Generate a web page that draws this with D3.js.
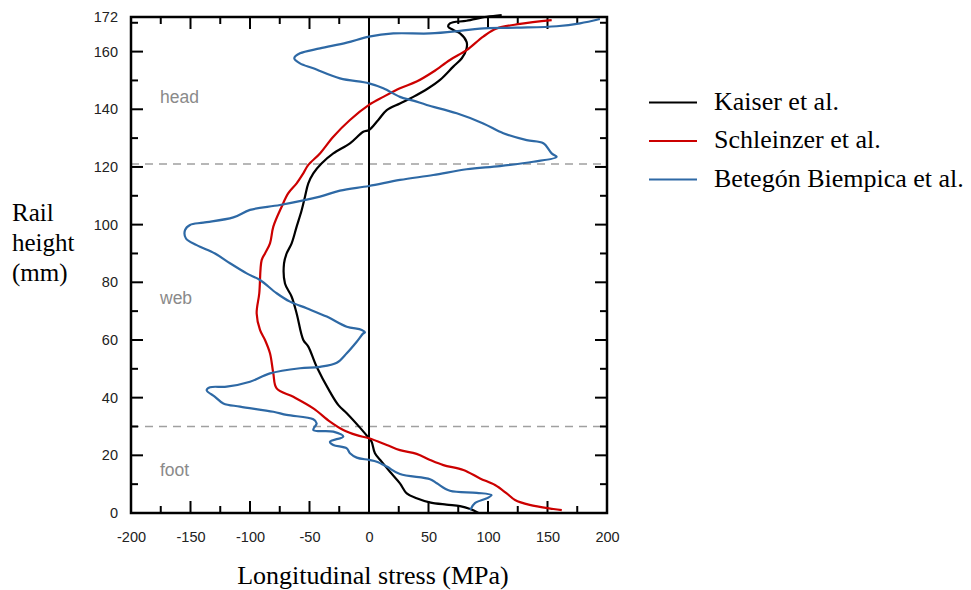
<!DOCTYPE html>
<html><head><meta charset="utf-8">
<script src="https://cdn.jsdelivr.net/npm/d3@7"></script>
<style>body{margin:0;background:#fff}svg{display:block}</style>
</head><body>
<svg id="c" width="971" height="590"></svg>
<script>
// stress (MPa), height (mm)
const kaiserX = [92,85,76.5,65,51,40,31.7,26,17.6,10.6,5,2.2,0,-7.6,-18.7,-25.7,-32.8,-44,-51,-55.2,-60.8,-65,-70.6,-71.4,-69.2,-65,-60.8,-56.6,-53.8,-51,-46.8,-39.7,-30,-16,-4.8,0,7.8,14.9,26,37.2,49.8,59.7,70.8,78,82,82,76.5,70.8,66.6,68,82,99,111.5];
const kaiserY = [0,1.4,2.4,2.9,3.7,5.1,6.8,10.3,14.3,17.8,20.7,24.7,25.9,29.6,34.6,37.4,42,50.7,57.7,60,69.2,75,79.6,86.6,90,93.5,99.3,105,109.7,114.3,117.8,121.3,124.7,128.2,132.2,132.8,136.3,139.7,142,144.3,147.3,150.2,154.8,157.7,161.1,163.4,166.3,167.5,168.6,169.8,170.7,172.1,172.7];
const schleinzerX = [162,155,135,122.7,115.7,105.9,93.3,79.3,62.5,51.3,40,26,14.9,0,-10.3,-21.6,-32.8,-46.8,-63.6,-77.6,-80.4,-83.2,-87.4,-91.6,-94.4,-92.2,-90.2,-87.4,-83.2,-80.4,-73.4,-67.8,-60.8,-55.2,-51,-41.2,-30,-16,0,12,26,40,54,68,82,96,107.3,127,153.5];
const schleinzerY = [1,1.4,2.8,4.5,6.8,9.7,12,14.9,16.6,18.4,20.5,21.8,23.6,25.9,27,28.8,31.7,36.3,40.3,43.2,48.4,55.4,60,63.5,69.2,76.2,87.7,90,93.5,99.3,106.2,110.9,114.3,117.8,120.7,124.7,130.5,136.3,141.5,144.3,147.3,149.6,153,157.1,160.5,165.2,168,169.6,170.9];
const betegonX = [85,89,99,103,90.5,68,57,51.3,26,14.9,6.5,0,-10.3,-16,-18.7,-30,-32.8,-21.6,-30,-46.8,-44,-46.8,-69.2,-80.4,-108.4,-122.4,-129.4,-136.4,-133.6,-119.6,-100,-83.2,-58,-41.2,-27.1,-18.7,-10.3,-4.8,-3.4,-6.1,-18.7,-35.5,-52.4,-66.4,-77.6,-91.6,-102.8,-116.8,-129.4,-144.8,-153.8,-154.6,-150.4,-139.2,-114,-100,-74.8,-41.2,-24.4,0,26,54,82,110,138,157.7,153.5,146.5,132.5,112.9,96,73.7,48.5,37.2,26,12,0,-24.4,-46.8,-58,-62.8,-58,-41.2,-18.7,0,20.4,51.3,76.5,93.3,124,157.7,177.3,194];
const betegonY = [1,3.4,5.1,6.2,7,7.7,10.3,11.7,13.5,16.1,17.8,18.4,19.2,20.7,22.4,23.6,24.7,26.5,28.2,28.8,31.1,32.5,34,35.1,36.9,38,40.3,42.6,43.6,43.8,45.5,48.4,50.2,50.7,52.1,55.4,59.4,62.3,62.6,63.5,64.6,68.1,71,73.3,76.2,80.8,83.1,86.6,90,92.9,95.2,98.1,99.9,100.7,102.5,105.1,106.8,109.7,111.8,113.4,115.5,117.2,119.2,120.3,121.8,123.5,124.7,128.2,129.3,131.7,135.1,138.6,141.5,143,144.3,147.3,149,150.7,154.2,155.9,157.7,159.4,161.1,163.1,165.2,166.3,166.3,167.2,168,168.3,168.8,169.8,171.3];
const seriesNames = ["Kaiser et al.","Schleinzer et al.","Betegón Biempica et al."];
const seriesColors = ["#000000","#cc0000","#2e69a5"];
const xTicks = [-200,-150,-100,-50,0,50,100,150,200];
const yTicks = [0,20,40,60,80,100,120,140,160,172];
const zoneLines = [121,30];
const zoneLabels = [{t:"head",h:143},{t:"web",h:73},{t:"foot",h:13.5}];

const svg = d3.select("#c");
const L=131,R=607,T=17,B=513;
const x = d3.scaleLinear().domain([-200,200]).range([L,R]);
const y = d3.scaleLinear().domain([0,172]).range([B,T]);

// dashed zone lines
svg.selectAll(".zl").data(zoneLines).join("line")
  .attr("x1",L).attr("x2",R).attr("y1",d=>y(d)).attr("y2",d=>y(d))
  .attr("stroke","#a0a0a0").attr("stroke-width",1.5).attr("stroke-dasharray","8,6");

// zone labels
svg.selectAll(".zt").data(zoneLabels).join("text")
  .attr("x",160).attr("y",d=>y(d.h)+2).text(d=>d.t)
  .attr("font-family","Liberation Sans, Arial, sans-serif").attr("font-size",17.5).attr("fill","#8a8a8a");

// zero line
svg.append("line").attr("x1",x(0)).attr("x2",x(0)).attr("y1",T).attr("y2",B)
  .attr("stroke","#000").attr("stroke-width",2);

// ticks (inward)
const minorX = d3.range(-175,200,25);
svg.selectAll(".tb").data(minorX).join("line")
  .attr("x1",d=>x(d)).attr("x2",d=>x(d)).attr("y1",B).attr("y2",d=>B-(d%50===0?12:7))
  .attr("stroke","#000").attr("stroke-width",2);
svg.selectAll(".tt").data(minorX).join("line")
  .attr("x1",d=>x(d)).attr("x2",d=>x(d)).attr("y1",T).attr("y2",d=>T+(d%50===0?12:7))
  .attr("stroke","#000").attr("stroke-width",2);
const minorY = d3.range(10,172,10);
svg.selectAll(".tl").data(minorY).join("line")
  .attr("x1",L).attr("x2",d=>L+(d%20===0?12:7)).attr("y1",d=>y(d)).attr("y2",d=>y(d))
  .attr("stroke","#000").attr("stroke-width",2);
svg.selectAll(".tr").data(minorY).join("line")
  .attr("x1",R).attr("x2",d=>R-(d%20===0?12:7)).attr("y1",d=>y(d)).attr("y2",d=>y(d))
  .attr("stroke","#000").attr("stroke-width",2);

// tick labels via axes
const ax = svg.append("g").attr("transform",`translate(0,${B})`)
  .call(d3.axisBottom(x).tickValues(xTicks).tickSize(0).tickPadding(19).tickFormat(d=>String(d)));
ax.select(".domain").remove();
ax.selectAll("text").attr("font-family","Liberation Sans, Arial, sans-serif").attr("font-size",14.5).attr("fill","#222");
const ay = svg.append("g").attr("transform",`translate(${L},0)`)
  .call(d3.axisLeft(y).tickValues(yTicks).tickSize(0).tickPadding(13).tickFormat(d=>String(d)));
ay.select(".domain").remove();
ay.selectAll("text").attr("font-family","Liberation Sans, Arial, sans-serif").attr("font-size",14.5).attr("fill","#222");

// series
const line = d3.line().x(d=>x(d[0])).y(d=>y(d[1])).curve(d3.curveCatmullRom.alpha(0.5));
const data = [
  d3.zip(kaiserX,kaiserY),
  d3.zip(schleinzerX,schleinzerY),
  d3.zip(betegonX,betegonY)
];
svg.selectAll(".s").data(data).join("path")
  .attr("d",line).attr("fill","none")
  .attr("stroke",(d,i)=>seriesColors[i]).attr("stroke-width",2.2)
  .attr("stroke-linejoin","round");

// frame
svg.append("rect").attr("x",L).attr("y",T).attr("width",R-L).attr("height",B-T)
  .attr("fill","none").attr("stroke","#000").attr("stroke-width",2.5);

// legend
const lg = svg.selectAll(".lg").data(seriesNames).join("g")
  .attr("transform",(d,i)=>`translate(649,${102.5+i*38.5})`);
lg.append("line").attr("x1",0).attr("x2",48).attr("stroke",(d,i)=>seriesColors[i]).attr("stroke-width",2.2);
lg.append("text").attr("x",65).attr("y",7).text(d=>d)
  .attr("font-family","Liberation Serif, Times New Roman, serif").attr("font-size",26).attr("fill","#000");

// axis titles
svg.append("text").attr("x",373).attr("y",584).attr("text-anchor","middle")
  .text("Longitudinal stress (MPa)")
  .attr("font-family","Liberation Serif, Times New Roman, serif").attr("font-size",26);
["Rail","height","(mm)"].forEach((t,i)=>{
  svg.append("text").attr("x",12).attr("y",221+i*30).text(t)
    .attr("font-family","Liberation Serif, Times New Roman, serif").attr("font-size",25);
});
</script>
</body></html>
